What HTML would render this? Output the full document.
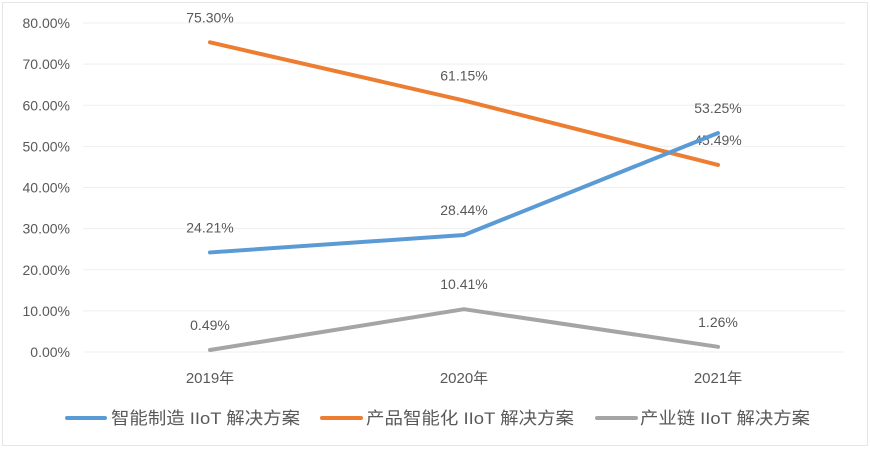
<!DOCTYPE html>
<html><head><meta charset="utf-8"><style>
body{margin:0;background:#fff;}
svg text{font-family:"Liberation Sans","Noto Sans CJK SC",sans-serif;fill:#595959;}
</style></head><body>
<svg width="870" height="449" xmlns="http://www.w3.org/2000/svg">
<rect x="2.5" y="2.5" width="865" height="443" fill="#fff" stroke="#e6e6e6"/>
<g id="grid"></g><g id="series"></g>
<g font-size="17">
<line x1="67" y1="418" x2="105" y2="418" stroke="#5b9bd5" stroke-width="4" stroke-linecap="round"/>
<text x="111" y="424" textLength="189" lengthAdjust="spacingAndGlyphs">智能制造 IIoT 解决方案</text>
<line x1="322" y1="418" x2="361" y2="418" stroke="#ed7d31" stroke-width="4" stroke-linecap="round"/>
<text x="366" y="424" textLength="208" lengthAdjust="spacingAndGlyphs">产品智能化 IIoT 解决方案</text>
<line x1="597" y1="418" x2="636" y2="418" stroke="#a5a5a5" stroke-width="4" stroke-linecap="round"/>
<text x="640" y="424" textLength="170" lengthAdjust="spacingAndGlyphs">产业链 IIoT 解决方案</text>
</g>
</svg>
<script>
const categories=["2019年","2020年","2021年"];
const smartMfg=[24.21,28.44,53.25];
const productSmart=[75.30,61.15,45.49];
const chain=[0.49,10.41,1.26];
const yTicks=[0,10,20,30,40,50,60,70,80];
const NS="http://www.w3.org/2000/svg";
const x=i=>210+i*254;
const y=v=>352-v*(329/80);
const grid=document.getElementById('grid'),ser=document.getElementById('series');
function mk(tag,attrs,parent,txt){const e=document.createElementNS(NS,tag);for(const k in attrs)e.setAttribute(k,attrs[k]);if(txt!==undefined)e.textContent=txt;parent.appendChild(e);return e;}
yTicks.forEach(t=>{
const l=mk('line',{x1:83,x2:845,y1:y(t),y2:y(t),stroke:'#efefef','stroke-width':1},grid);


const tx=mk('text',{x:70,y:y(t)+5,'text-anchor':'end','font-size':14},grid,t.toFixed(2)+'%');


});
categories.forEach((c,i)=>{
const tx=mk('text',{x:x(i),y:383,'text-anchor':'middle','font-size':15},grid,c);


});
function series(vals,color,name){
const p=mk('polyline',{points:vals.map((v,i)=>x(i)+','+y(v)).join(' '),fill:'none',stroke:color,'stroke-width':4,'stroke-linejoin':'round','stroke-linecap':'round'},ser);


vals.forEach((v,i)=>{
const t=mk('text',{x:x(i),y:y(v)-20,'text-anchor':'middle','font-size':14},ser,v.toFixed(2)+'%');


});
}
series(chain,'#a5a5a5','industry-chain');
series(productSmart,'#ed7d31','product-smart');
series(smartMfg,'#5b9bd5','smart-manufacturing');
</script>
</body></html>
